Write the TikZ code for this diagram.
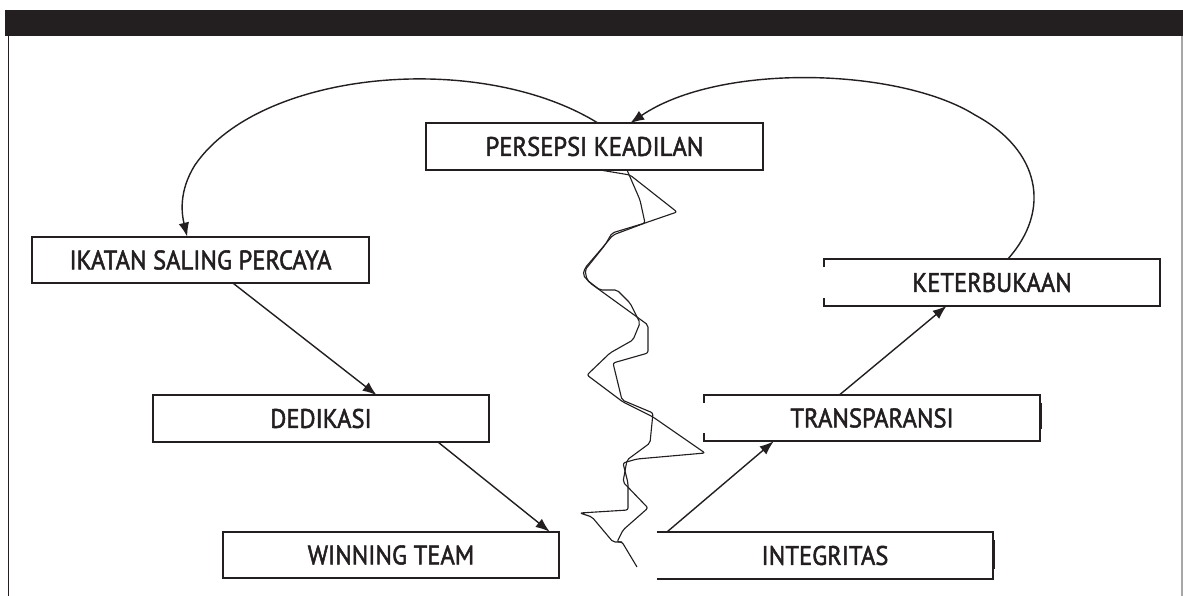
\documentclass[tikz,border=0pt]{standalone}
\usepackage{fontspec}
\setmainfont{PT Sans}
\newfontfamily\lblfont{PT Sans}[FakeBold=2]
\usetikzlibrary{calc,arrows.meta}
\definecolor{ink}{HTML}{231F20}
\newcommand{\lbltext}[1]{\scalebox{0.92}[1]{#1}}
\begin{document}
\begin{tikzpicture}[x=0.025cm,y=-0.025cm,
  label/.style={minimum width=8.4cm,minimum height=1.15cm,inner sep=0pt,
    text=ink,font=\lblfont\fontsize{19}{19}\selectfont},
  edge/.style={draw=ink,line width=1.2pt},
  flow/.style={draw=ink,line width=1pt,-{Latex[length=10pt,width=7.5pt]}},
  crack/.style={draw=ink,line width=0.8pt,line join=round,rounded corners=1.5pt}
]
\useasboundingbox (0,0) rectangle (1183,596);

% heading bar and frame
\fill[ink] (5,10) rectangle (1183,36);
\draw[ink,line width=1.1pt] (8.5,36) -- (8.5,596);
\draw[gray!70,line width=1pt] (1182,36) -- (1182,596);

% labels
\node[label] (per) at (594.5,146.5) {\lbltext{PERSEPSI KEADILAN}};
\node[label] (ika) at (200.5,260)   {\lbltext{IKATAN SALING PERCAYA}};
\node[label] (ket) at (992,282.5)   {\lbltext{KETERBUKAAN}};
\node[label] (ded) at (321,418.5)   {\lbltext{DEDIKASI}};
\node[label] (tra) at (872,418)     {\lbltext{TRANSPARANSI}};
\node[label] (win) at (391,555)     {\lbltext{WINNING TEAM}};
\node[label] (int) at (825,555.5)   {\lbltext{INTEGRITAS}};

% closed boxes
\foreach \b in {per,ika,ded,win}
  \draw[edge] (\b.south west) rectangle (\b.north east);
% boxes with broken left side
\draw[edge] ($(ket.north west)+(0,8)$) -- (ket.north west) -- (ket.north east)
  -- (ket.south east) -- (ket.south west) -- ++(0,-8);
\draw[edge] ($(tra.north west)+(0,8)$) -- (tra.north west) -- (tra.north east)
  -- (tra.south east) -- (tra.south west) -- ++(0,-8);
\draw[edge] (int.north west) -- (int.north east) -- (int.south east) -- (int.south west);
\draw[ink,line width=2.2pt] ($(tra.north east)+(0,8)$) -- ($(tra.south east)+(0,-12)$);
\draw[ink,line width=2.2pt] ($(int.north east)+(0,8)$) -- ($(int.south east)+(0,-10)$);

% straight links
\draw[flow] ($(ika.south west)+(201,0)$) -- ($(ded.north west)+(224,0)$);
\draw[flow] ($(ded.south west)+(285,0)$) -- ($(win.north west)+(327,0)$);
\draw[flow] ($(int.north west)+(10,0)$) -- ($(tra.south west)+(70,0)$);
\draw[flow] ($(tra.north west)+(136,0)$) -- ($(ket.south west)+(123,0)$);

% curved links
\draw[flow] ($(per.north west)+(172,0)$) .. controls (480,50) and (260,70) .. (195,165)
  .. controls (178,192) and (182,215) .. ($(ika.north west)+(155,0)$);
\draw[flow] ($(ket.north west)+(184,0)$) .. controls (1052,210) and (1040,150) .. (975,115)
  .. controls (900,68) and (720,62) .. ($(per.north west)+(204,0)$);

% crack
\draw[crack] (627,170) -- (640,200) -- (645,223) -- (612,233) -- (605,245) -- (585,270)
  -- (587,280) -- (600,290) -- (617,290) -- (630,303) -- (640,323) -- (633,340)
  -- (610,353) -- (587,375) -- (623,402) -- (653,417) -- (705,453) -- (637,459)
  -- (623,463) -- (628,483) -- (628,510) -- (580,513) -- (592,517) -- (613,542)
  -- (622,542) -- (637,567);
\draw[crack] (600,170) -- (630,175) -- (677,212) -- (645,223) -- (613,235) -- (603,247)
  -- (585,268) -- (583,275) -- (590,283) -- (637,317) -- (648,325) -- (648,353)
  -- (613,363) -- (622,400) -- (653,413) -- (650,443) -- (627,460) -- (623,482)
  -- (648,508) -- (623,530) -- (617,542) -- (622,542);
\end{tikzpicture}
\end{document}
